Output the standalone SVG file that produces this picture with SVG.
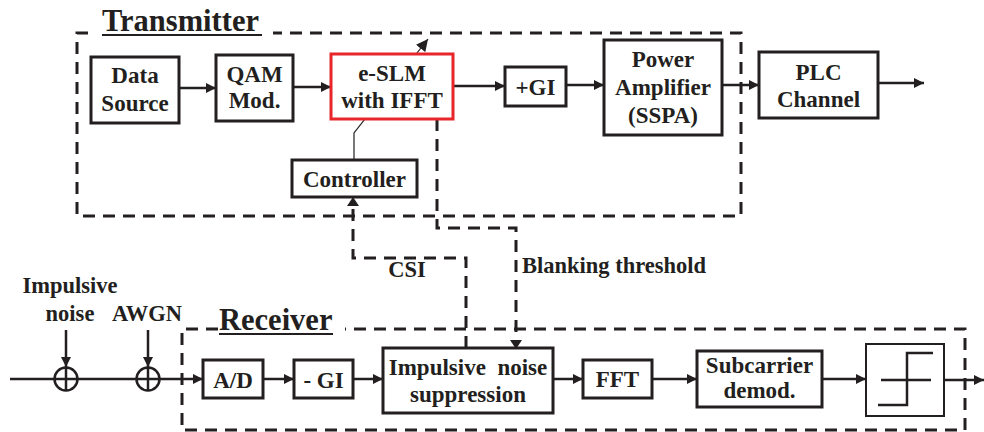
<svg xmlns="http://www.w3.org/2000/svg" width="984" height="432" viewBox="0 0 984 432">
<style>
.box{fill:#fff;stroke:#231f20;stroke-width:3}
.red{fill:#fff;stroke:#e8262a;stroke-width:3}
.thin{fill:#fff;stroke:#231f20;stroke-width:2}
text{font-family:"Liberation Serif","Times New Roman",Tinos,"DejaVu Serif",serif;font-weight:bold;fill:#231f20}
.t{font-size:23px;text-anchor:middle}
.h{font-size:30.5px}
.l{font-size:22.5px}
.a{fill:none;stroke:#231f20;stroke-width:2.5;marker-end:url(#ah)}
.d{fill:none;stroke:#231f20;stroke-width:3;stroke-dasharray:12 8}
.s{fill:none;stroke:#231f20;stroke-width:2.5}
</style>
<defs>
<marker id="ah" viewBox="0 0 10 10" refX="10" refY="5" markerWidth="4" markerHeight="4" orient="auto" markerUnits="strokeWidth">
<path d="M0,0 L10,5 L0,10 z" fill="#231f20"/>
</marker>
<marker id="ah2" viewBox="0 0 10 10" refX="10" refY="5" markerWidth="10" markerHeight="10" orient="auto" markerUnits="strokeWidth">
<path d="M0,0 L10,5 L0,10 z" fill="#231f20"/>
</marker>
</defs>

<g id="transmitter-frame">
<path class="d" d="M88,33 H77 V216 H741 V33 H273"/>
<text class="h" x="102" y="31">Transmitter</text>
<line x1="102" y1="35" x2="262" y2="35" stroke="#231f20" stroke-width="2"/>
</g>

<g id="receiver-frame">
<path class="d" d="M218,329 H182 V430 H965 V329 H345"/>
<text class="h" x="219" y="330">Receiver</text>
<line x1="219" y1="334" x2="333" y2="334" stroke="#231f20" stroke-width="2"/>
</g>

<g id="connectors">
<line class="a" x1="179" y1="88" x2="216" y2="88"/>
<line class="a" x1="293" y1="87" x2="331" y2="87"/>
<line class="a" x1="453" y1="86" x2="505" y2="86"/>
<line class="a" x1="566" y1="85" x2="604" y2="85"/>
<line class="a" x1="722" y1="85" x2="759" y2="85"/>
<line class="a" x1="878" y1="83" x2="924" y2="83"/>
<path fill="none" stroke="#231f20" stroke-width="1.2" marker-end="url(#ah2)" d="M354,160 V133 L428,39"/>
<path class="d" d="M437,119 V228 H516 V341"/>
<path d="M510,340 L516,349 L522,340 z" fill="#231f20"/>
<path class="d" d="M466,348 V258 H353 V205"/>
<path d="M347,206 L353,197 L359,206 z" fill="#231f20"/>
<line class="a" x1="10" y1="379" x2="203" y2="379"/>
<line class="a" x1="66" y1="330" x2="66" y2="367"/>
<line class="a" x1="148" y1="330" x2="148" y2="367"/>
<line class="a" x1="263" y1="379" x2="294" y2="379"/>
<line class="a" x1="353" y1="379" x2="383" y2="379"/>
<line class="a" x1="553" y1="379" x2="583" y2="379"/>
<line class="a" x1="652" y1="379" x2="697" y2="379"/>
<line class="a" x1="822" y1="379" x2="866" y2="379"/>
<line class="a" x1="944" y1="380" x2="984" y2="380"/>
</g>

<g id="sum1">
<circle cx="66" cy="379" r="11.5" fill="none" stroke="#231f20" stroke-width="2.5"/>
<line class="s" x1="66" y1="367.5" x2="66" y2="390.5"/>
</g>
<g id="sum2">
<circle cx="148" cy="379" r="11.5" fill="none" stroke="#231f20" stroke-width="2.5"/>
<line class="s" x1="148" y1="367.5" x2="148" y2="390.5"/>
</g>

<g id="labels">
<text class="l" x="70" y="293" text-anchor="middle">Impulsive</text>
<text class="l" x="70" y="321" text-anchor="middle">noise</text>
<text class="l" x="147" y="321" text-anchor="middle">AWGN</text>
<text class="l" x="407" y="277" text-anchor="middle">CSI</text>
<text class="l" x="522" y="273">Blanking threshold</text>
</g>

<g id="data-source">
<rect class="box" x="91" y="57" width="88" height="66"/>
<text class="t" x="135" y="83">Data</text>
<text class="t" x="135" y="111">Source</text>
</g>
<g id="qam-mod">
<rect class="box" x="216" y="55" width="77" height="66"/>
<text class="t" x="254.5" y="82">QAM</text>
<text class="t" x="254.5" y="108">Mod.</text>
</g>
<g id="eslm">
<rect class="red" x="331" y="54" width="122" height="65"/>
<text class="t" x="392" y="81">e-SLM</text>
<text class="t" x="392" y="108">with IFFT</text>
</g>
<g id="controller">
<rect class="box" x="292" y="160" width="125" height="37"/>
<text class="t" x="354.5" y="187">Controller</text>
</g>
<g id="add-gi">
<rect class="box" x="505" y="67" width="61" height="39"/>
<text class="t" x="535.5" y="95">+GI</text>
</g>
<g id="power-amplifier">
<rect class="box" x="604" y="40" width="118" height="95"/>
<text class="t" x="663" y="67">Power</text>
<text class="t" x="663" y="95">Amplifier</text>
<text class="t" x="663" y="123">(SSPA)</text>
</g>
<g id="plc-channel">
<rect class="box" x="759" y="52" width="119" height="66"/>
<text class="t" x="818.5" y="80">PLC</text>
<text class="t" x="818.5" y="107">Channel</text>
</g>
<g id="ad">
<rect class="box" x="203" y="360" width="60" height="38"/>
<text class="t" x="233" y="388">A/D</text>
</g>
<g id="minus-gi">
<rect class="box" x="294" y="360" width="59" height="38"/>
<text class="t" x="323.5" y="388">- GI</text>
</g>
<g id="impulsive-noise-suppression">
<rect class="box" x="383" y="348" width="170" height="65"/>
<text class="t" x="468" y="375" xml:space="preserve">Impulsive  noise</text>
<text class="t" x="468" y="402">suppression</text>
</g>
<g id="fft">
<rect class="box" x="583" y="360" width="69" height="38"/>
<text class="t" x="617.5" y="387">FFT</text>
</g>
<g id="subcarrier-demod">
<rect class="box" x="697" y="351" width="125" height="56"/>
<text class="t" x="759.5" y="373">Subcarrier</text>
<text class="t" x="759.5" y="398">demod.</text>
</g>
<g id="decision">
<rect class="thin" x="866" y="344" width="78" height="72"/>
<line class="s" x1="881" y1="380" x2="931" y2="380"/>
<path class="s" d="M878,405 H907 V353 H933"/>
</g>
</svg>
